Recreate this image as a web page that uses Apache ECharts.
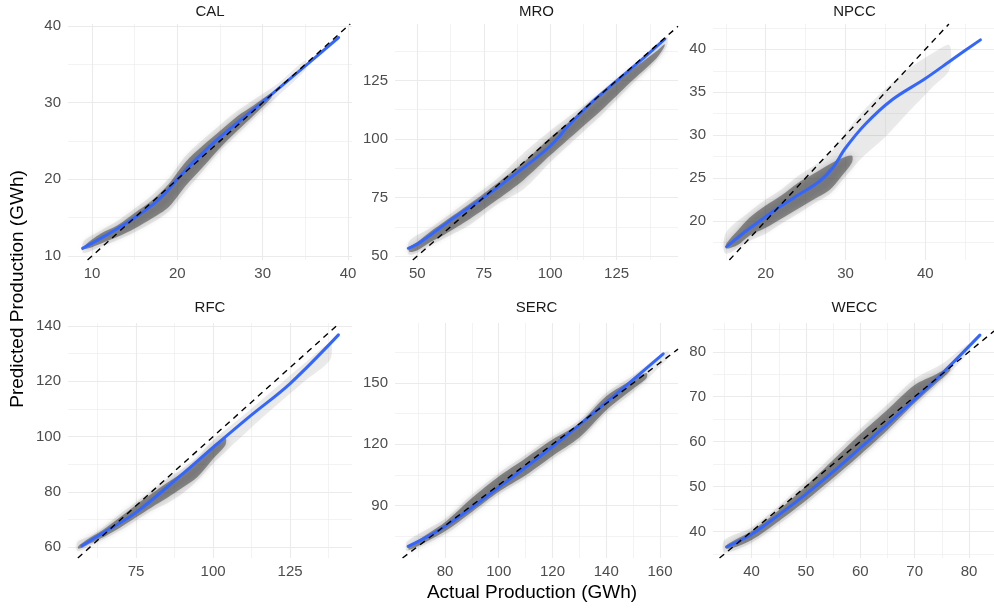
<!DOCTYPE html>
<html><head><meta charset="utf-8">
<script src="https://cdn.jsdelivr.net/npm/echarts@6/dist/echarts.min.js"></script>
<style>html,body{margin:0;padding:0;background:#fff}#c{width:994px;height:609px}</style>
</head><body><div id="c"></div>
<script>
// ---------- data ----------
const regions = ['CAL', 'MRO', 'NPCC', 'RFC', 'SERC', 'WECC'];

// axis limits per region [min, max]
const xLimits = [[7.19, 40.47], [41.6, 148.1], [13.4, 48.6], [52.9, 145.1], [61.4, 166.7], [32.9, 84.6]];
const yLimits = [[9.48, 40.26], [48.3, 149.1], [15.45, 42.95], [56.1, 141.1], [64.2, 179.5], [34.1, 86.4]];

// tick labels (major breaks) and minor breaks
const xMajor = [[10, 20, 30, 40], [50, 75, 100, 125], [20, 30, 40], [75, 100, 125], [80, 100, 120, 140, 160], [40, 50, 60, 70, 80]];
const xMinor = [[15, 25, 35], [62.5, 87.5, 112.5, 137.5], [15, 25, 35, 45], [62.5, 87.5, 112.5, 137.5], [70, 90, 110, 130, 150], [35, 45, 55, 65, 75]];
const yMajor = [[10, 20, 30, 40], [50, 75, 100, 125], [20, 25, 30, 35, 40], [60, 80, 100, 120, 140], [90, 120, 150], [40, 50, 60, 70, 80]];
const yMinor = [[15, 25, 35], [62.5, 87.5, 112.5, 137.5], [17.5, 22.5, 27.5, 32.5, 37.5, 42.5], [70, 90, 110, 130], [75, 105, 135, 165], [35, 45, 55, 65, 75, 85]];

// smoothed fit (blue) [actual, predicted]
const calCurve  = [[8.9, 11.0], [11, 12.3], [13, 13.6], [15, 15.0], [17, 16.6], [18.5, 18.1], [20, 20.0], [22, 22.4], [25, 25.5], [30, 30.1], [35, 34.8], [38.9, 38.5]];
const mroCurve  = [[46.6, 53.3], [50, 55.1], [58.5, 62.0], [65, 67.3], [75, 75.0], [87.5, 85.6], [100, 97.0], [107.5, 106.5], [115, 115.0], [125, 124.8], [135, 134.4], [143.2, 142.7]];
const npccCurve = [[15.1, 17.0], [17.5, 18.8], [20, 20.5], [22, 21.8], [24.2, 23.1], [26.7, 24.6], [28.4, 26.2], [30.0, 28.5], [32.5, 31.3], [35.8, 34.1], [40, 36.6], [43.5, 38.9], [46.9, 41.1]];
const rfcCurve  = [[57.4, 60.5], [65, 65.7], [75, 72.6], [89.3, 85.8], [100.1, 96.2], [112, 107.4], [125, 119.2], [140.7, 136.8]];
const sercCurve = [[66.3, 69.9], [80, 79.7], [100, 98.9], [120, 118.9], [140, 140.6], [161.2, 164.4]];
const weccCurve = [[35.4, 36.6], [40, 39.4], [45, 43.7], [50, 48.3], [55, 53.3], [60, 58.6], [65, 63.9], [70, 69.4], [75, 75.1], [82, 83.7]];

// point cloud extent [actual, predicted low, predicted high]: dense core and faint outer
const calCore  = [[9.2, 10.9, 11.4], [11, 11.6, 12.9], [13, 12.5, 14.0], [15, 13.6, 15.6], [17, 14.9, 17.2], [19, 16.4, 19.4], [21, 19.2, 22.3], [23, 21.6, 24.4], [25, 24.1, 26.3], [27, 26.3, 28.2], [29, 28.4, 29.7], [31, 30.6, 31.2]];
const calOuter = [[9, 10.4, 11.9], [11, 11.2, 13.3], [13, 12.1, 14.6], [15, 13.1, 16.2], [17, 14.3, 17.9], [19, 15.8, 20.1], [21, 18.5, 23.1], [23, 21.1, 25.2], [25, 23.7, 27.1], [27, 25.8, 28.9], [29, 28.0, 30.4], [32, 31.1, 32.7], [35, 34.3, 35.5]];
const mroCore  = [[47, 51.8, 53.8], [50, 52.5, 56.0], [55, 56.0, 60.5], [60, 59.0, 64.5], [70, 66.0, 72.5], [80, 74.0, 81.0], [90, 82.5, 90.0], [100, 93.0, 100.5], [110, 103.0, 110.0], [120, 113.0, 119.5], [130, 124.0, 129.0], [140, 134.5, 137.5], [143, 139.5, 140.5]];
const mroOuter = [[47, 50.5, 56.5], [55, 54.5, 62.0], [60, 57.5, 66.0], [70, 63.5, 74.5], [80, 72.0, 83.0], [90, 78.5, 94.0], [100, 90.0, 103.5], [110, 100.5, 112.0], [120, 111.0, 121.0], [130, 122.5, 130.5], [140, 133.5, 139.5], [144, 140.0, 143.5]];
const npccCore  = [[15.1, 16.8, 17.4], [16.5, 17.2, 18.9], [18, 18.3, 20.4], [20, 19.2, 21.8], [22, 20.3, 23.0], [24, 21.4, 24.4], [26, 22.5, 25.5], [28, 23.6, 26.6], [29.5, 25.2, 27.3], [30.8, 26.8, 27.6]];
const npccOuter = [[15, 16.2, 18.6], [18, 17.7, 21.1], [20, 18.5, 22.5], [22, 19.7, 23.7], [24, 20.8, 25.2], [26, 22.0, 26.4], [28, 23.1, 27.8], [30, 25.2, 30.3], [32, 27.3, 32.6], [35, 29.8, 35.4], [38, 32.8, 37.8], [41, 35.7, 39.6], [43, 37.6, 40.5]];
const rfcCore  = [[56.2, 59.5, 60.3], [57.5, 59.8, 61.5], [60, 61.3, 63.4], [65, 64.0, 66.9], [70, 67.2, 71.0], [75, 70.8, 75.3], [80, 74.4, 79.3], [85, 77.8, 83.2], [90, 81.5, 86.8], [95, 85.5, 91.2], [100, 92.0, 96.8], [104, 97.0, 99.5]];
const rfcOuter = [[56, 58.6, 62.0], [60, 60.6, 64.0], [65, 63.2, 67.8], [70, 66.2, 72.2], [75, 69.7, 76.3], [80, 73.2, 80.3], [85, 75.8, 84.8], [90, 79.3, 88.3], [95, 84.3, 92.8], [100, 90.3, 98.7], [110, 100.8, 107.8], [120, 110.8, 117.3], [130, 120.3, 126.8], [138, 127.8, 133.8]];
const sercCore  = [[66.5, 68.3, 69.8], [68, 68.7, 71.4], [80, 77.3, 81.8], [90, 86.8, 93.6], [100, 96.7, 104.2], [110, 104.8, 113.2], [120, 114.3, 122.3], [130, 123.3, 130.3], [140, 136.7, 143.6], [150, 147.2, 151.8], [155, 152.5, 155.0]];
const sercOuter = [[66, 67.6, 72.4], [80, 75.8, 83.3], [90, 85.3, 95.2], [100, 95.3, 105.7], [110, 103.3, 114.8], [120, 112.8, 123.8], [130, 121.8, 131.8], [140, 135.3, 145.2], [150, 145.7, 153.8], [160, 158.2, 163.8], [163, 162.2, 165.6]];
const weccCore  = [[35.3, 36.2, 36.8], [36.5, 36.3, 37.8], [40, 38.1, 40.1], [45, 42.3, 44.7], [50, 46.9, 50.1], [55, 51.9, 55.9], [60, 57.1, 61.7], [65, 62.6, 67.1], [70, 68.6, 72.6], [74, 73.0, 75.0], [76.5, 75.8, 76.6]];
const weccOuter = [[35, 35.3, 38.1], [40, 37.5, 40.9], [45, 41.6, 45.7], [50, 46.1, 51.2], [55, 51.1, 57.0], [60, 56.4, 62.8], [65, 61.9, 68.3], [70, 67.9, 74.0], [75, 73.6, 77.3], [80, 80.0, 81.8]];

const curves = [calCurve, mroCurve, npccCurve, rfcCurve, sercCurve, weccCurve];
const cores = [calCore, mroCore, npccCore, rfcCore, sercCore, weccCore];
const outers = [calOuter, mroOuter, npccOuter, rfcOuter, sercOuter, weccOuter];

// ---------- layout ----------
const colLeft = [68, 395, 713];
const colWidth = [284, 283, 283];
const rowTop = [24, 323];
const rowHeight = [236, 235];

const FONT = '"Liberation Sans", Arial, Helvetica, sans-serif';
const GRID_COLOR = '#EBEBEB';

const grids = [], xAxes = [], yAxes = [], series = [], graphics = [];

function bandSeries(i, band, fill, blur) {
  return {
    type: 'custom', xAxisIndex: 2 * i, yAxisIndex: 2 * i, silent: true, clip: true,
    data: band,
    encode: { x: 0, y: [1, 2] },
    renderItem: function (params, api) {
      if (params.dataIndexInside !== 0) return null;
      const n = params.dataInsideLength;
      const pts = [];
      for (let k = 0; k < n; k++) pts.push(api.coord([api.value(0, k), api.value(1, k)]));
      for (let k = n - 1; k >= 0; k--) pts.push(api.coord([api.value(0, k), api.value(2, k)]));
      return {
        type: 'polygon',
        shape: { points: pts, smooth: 0.3 },
        style: { fill: fill, shadowBlur: blur, shadowColor: fill }
      };
    },
    z: 2
  };
}

regions.forEach(function (name, i) {
  const col = i % 3, row = Math.floor(i / 3);
  grids.push({ left: colLeft[col], top: rowTop[row], width: colWidth[col], height: rowHeight[row], containLabel: false });
  const xl = xLimits[i], yl = yLimits[i];
  xAxes.push({
    type: 'value', gridIndex: i, min: xl[0], max: xl[1], position: 'bottom',
    axisLine: { show: false }, axisTick: { show: false, customValues: xMajor[i] },
    axisLabel: { customValues: xMajor[i], color: '#4D4D4D', fontSize: 15, fontFamily: FONT, margin: 6 },
    splitLine: { show: true, lineStyle: { color: GRID_COLOR, width: 1.1 } }
  });
  xAxes.push({
    type: 'value', gridIndex: i, min: xl[0], max: xl[1], position: 'top',
    axisLine: { show: false }, axisTick: { show: false, customValues: xMinor[i] },
    axisLabel: { show: false, customValues: xMinor[i] },
    splitLine: { show: true, lineStyle: { color: GRID_COLOR, width: 0.6 } }
  });
  yAxes.push({
    type: 'value', gridIndex: i, min: yl[0], max: yl[1], position: 'left',
    axisLine: { show: false }, axisTick: { show: false, customValues: yMajor[i] },
    axisLabel: { customValues: yMajor[i], color: '#4D4D4D', fontSize: 15, fontFamily: FONT, margin: 7 },
    splitLine: { show: true, lineStyle: { color: GRID_COLOR, width: 1.1 } }
  });
  yAxes.push({
    type: 'value', gridIndex: i, min: yl[0], max: yl[1], position: 'right',
    axisLine: { show: false }, axisTick: { show: false, customValues: yMinor[i] },
    axisLabel: { show: false, customValues: yMinor[i] },
    splitLine: { show: true, lineStyle: { color: GRID_COLOR, width: 0.6 } }
  });

  series.push(bandSeries(i, outers[i], 'rgba(100,100,100,0.13)', 8));
  series.push(bandSeries(i, cores[i], 'rgba(60,60,60,0.52)', 6));

  series.push({
    type: 'line', xAxisIndex: 2 * i, yAxisIndex: 2 * i, data: curves[i],
    smooth: 0.35, showSymbol: false, silent: true,
    lineStyle: { color: '#3366FF', width: 3, cap: 'round' }, z: 3
  });

  const lo = Math.max(xl[0], yl[0]), hi = Math.min(xl[1], yl[1]);
  series.push({
    type: 'line', xAxisIndex: 2 * i, yAxisIndex: 2 * i, data: [[lo, lo], [hi, hi]],
    showSymbol: false, silent: true,
    lineStyle: { color: '#000', width: 1.4, type: [6, 5] }, z: 4
  });

  graphics.push({
    type: 'text', x: colLeft[col] + colWidth[col] / 2, y: row === 0 ? 12 : 308,
    style: { text: name, fill: '#1A1A1A', font: '15px ' + FONT, textAlign: 'center', textVerticalAlign: 'middle' }
  });
});

graphics.push({
  type: 'text', x: 532, y: 593,
  style: { text: 'Actual Production (GWh)', fill: '#000', font: '19px ' + FONT, textAlign: 'center', textVerticalAlign: 'middle' }
});
graphics.push({
  type: 'text', x: 18, y: 289, rotation: Math.PI / 2,
  style: { text: 'Predicted Production (GWh)', fill: '#000', font: '19px ' + FONT, textAlign: 'center', textVerticalAlign: 'middle' }
});

const chart = echarts.init(document.getElementById('c'), null, { renderer: 'canvas' });
chart.setOption({
  animation: false,
  backgroundColor: '#fff',
  grid: grids, xAxis: xAxes, yAxis: yAxes, series: series, graphic: graphics
});
</script></body></html>
